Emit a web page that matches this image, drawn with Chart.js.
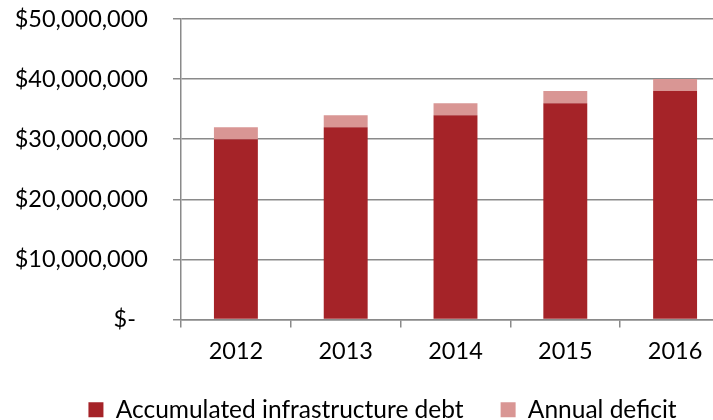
<!DOCTYPE html>
<html>
<head>
<meta charset="utf-8">
<script src="https://cdn.jsdelivr.net/npm/chart.js@4.4.1/dist/chart.umd.min.js"></script>
<style>
  html, body { margin: 0; padding: 0; background: #fff; overflow: hidden; }
  #wrap { position: relative; width: 765px; height: 432px; }
</style>
</head>
<body>
<div id="wrap"><canvas id="debtChart" width="765" height="432"></canvas></div>
<script>
const years = ['2012', '2013', '2014', '2015', '2016'];
const accumulatedDebt = [30000000, 32000000, 34000000, 36000000, 38000000];
const annualDeficit = [2000000, 2000000, 2000000, 2000000, 2000000];

const axisGray = '#8a8a8a';
const tickFont = { family: 'Lato, "Open Sans", sans-serif', size: 23.5 };
const legendFont = { family: 'Lato, "Open Sans", sans-serif', size: 24.5 };

function moneyLabel(v) {
    if (v === 0) return '$-  ';
    return '$' + v.toLocaleString('en-US');
}

new Chart(document.getElementById('debtChart'), {
    type: 'bar',
    data: {
        labels: years,
        datasets: [{
            label: 'Accumulated infrastructure debt',
            data: accumulatedDebt,
            backgroundColor: '#a52328',
            categoryPercentage: 1,
            barPercentage: 0.4,
        }, {
            label: 'Annual deficit',
            data: annualDeficit,
            backgroundColor: '#d99694',
            categoryPercentage: 1,
            barPercentage: 0.4,
        }],
    },
    options: {
        responsive: false,
        animation: false,
        layout: { padding: { top: 19, left: 0, right: 0, bottom: 0 } },
        plugins: {
            legend: {
                position: 'bottom',
                labels: {
                    color: '#000',
                    font: legendFont,
                    boxWidth: 15,
                    boxHeight: 15,
                    padding: 37,
                },
            },
            tooltip: { enabled: false },
        },
        scales: {
            x: {
                stacked: true,
                afterFit: s => { s.height = 41; },
                grid: {
                    offset: true,
                    drawOnChartArea: false,
                    color: axisGray,
                    lineWidth: 1.5,
                    tickLength: 8,
                },
                border: { color: axisGray, width: 1.5 },
                ticks: { color: '#000', font: tickFont, padding: 10 },
            },
            y: {
                stacked: true,
                min: 0,
                max: 50000000,
                afterFit: s => {
                    s.width = 181;
                    s.paddingTop = 0;
                    s.paddingBottom = 0;
                },
                grid: { color: axisGray, lineWidth: 1.5, tickLength: 8 },
                border: { color: axisGray, width: 1.5 },
                ticks: {
                    stepSize: 10000000,
                    color: '#000',
                    font: tickFont,
                    padding: 25,
                    callback: moneyLabel,
                },
            },
            // empty strip on the right so the last category runs past the edge
            yRight: {
                type: 'linear',
                axis: 'y',
                position: 'right',
                afterFit: s => { s.width = 35; },
                grid: { display: false },
                border: { display: false },
                ticks: { display: false },
            },
        },
    },
});
</script>
</body>
</html>
